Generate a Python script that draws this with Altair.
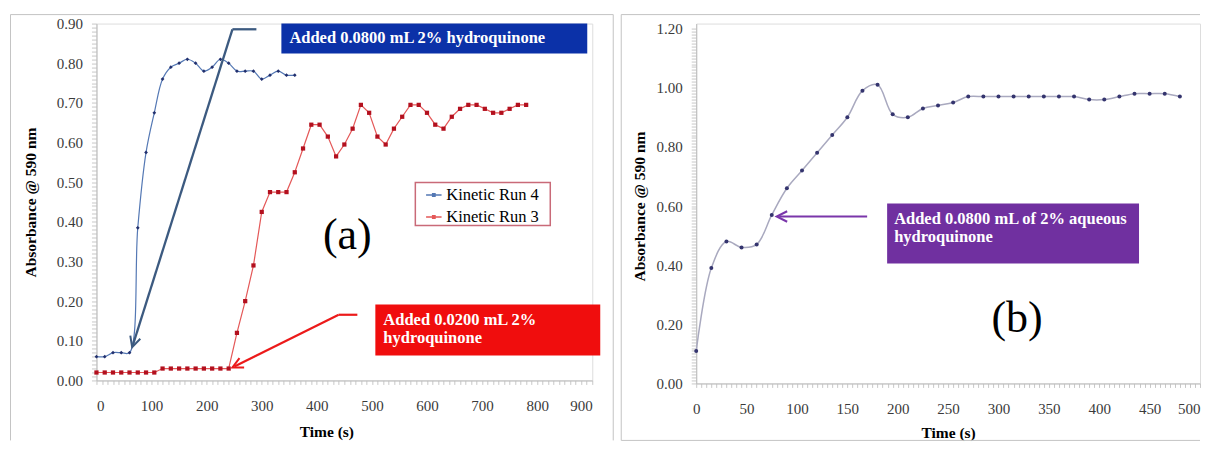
import math
import altair as alt
import pandas as pd

# ---------------- data ----------------
series_names = ["Kinetic Run 4", "Kinetic Run 3"]

run4_time = [0, 15, 30, 45, 60, 75, 90, 105, 120, 135, 150, 165, 180, 195, 210,
             225, 240, 255, 270, 285, 300, 315, 330, 345, 360]
run4_abs = [0.06, 0.06, 0.07, 0.07, 0.07, 0.385, 0.575, 0.675, 0.76, 0.79, 0.80,
            0.81, 0.80, 0.78, 0.79, 0.81, 0.80, 0.78, 0.78, 0.78, 0.76, 0.77,
            0.78, 0.77, 0.77]

run3_time = [0, 15, 30, 45, 60, 75, 90, 105, 120, 135, 150, 165, 180, 195, 210,
             225, 240, 255, 270, 285, 300, 315, 330, 345, 360, 375, 390, 405, 420,
             435, 450, 465, 480, 495, 510, 525, 540, 555, 570, 585, 600, 615, 630,
             645, 660, 675, 690, 705, 720, 735, 750, 765, 780]
run3_abs = [0.02, 0.02, 0.02, 0.02, 0.02, 0.02, 0.02, 0.02,
            0.03, 0.03, 0.03, 0.03, 0.03, 0.03, 0.03, 0.03, 0.03,
            0.12, 0.20, 0.29, 0.425, 0.475, 0.475, 0.475, 0.525, 0.585, 0.645,
            0.645, 0.615, 0.565, 0.595, 0.635, 0.695, 0.675, 0.615, 0.595, 0.635,
            0.665, 0.695, 0.695, 0.675, 0.645, 0.635, 0.665, 0.685, 0.695, 0.695,
            0.685, 0.675, 0.675, 0.685, 0.695, 0.695]

b_time = [0, 15, 30, 45, 60, 75, 90, 105, 120, 135, 150, 165, 180, 195, 210, 225,
          240, 255, 270, 285, 300, 315, 330, 345, 360, 375, 390, 405, 420, 435,
          450, 465, 480]
b_abs = [0.11, 0.39, 0.48, 0.46, 0.47, 0.57, 0.66, 0.72, 0.78, 0.84, 0.90, 0.99,
         1.01, 0.91, 0.90, 0.93, 0.94, 0.95, 0.97, 0.97, 0.97, 0.97, 0.97, 0.97,
         0.97, 0.97, 0.96, 0.96, 0.97, 0.98, 0.98, 0.98, 0.97]

note_a_blue = "Added 0.0800 mL 2% hydroquinone"
note_a_red = ["Added 0.0200 mL 2%", "hydroquinone"]
note_b = ["Added 0.0800 mL of 2% aqueous", "hydroquinone"]

# ---------------- layout ----------------
FONT = "Liberation Serif"
LW, LH = 496, 357          # left plot area
RW, RH = 504, 360          # right plot area (top 5px left empty)
GAP = 104
L0X, L0Y = 96, 23          # page position of left plot origin
R0X, R0Y = L0X + LW + GAP, 23
R_TOP = 1.2 + 5 / 295.8    # extra headroom so 1.20 sits 5px below the top

one = pd.DataFrame({"k": [0]})


def lx(p):
    return p - L0X


def ly(p):
    return p - L0Y


def rx(p):
    return p - R0X


def ry(p):
    return p - R0Y


def rule(x1, y1, x2, y2, color, width=1.0):
    return alt.Chart(one).mark_rule(color=color, strokeWidth=width).encode(
        x=alt.value(x1), y=alt.value(y1), x2=alt.value(x2), y2=alt.value(y2))


def head(tip, tail, color, size=110, width=2.0):
    ux, uy = tip[0] - tail[0], tip[1] - tail[1]
    n = math.hypot(ux, uy)
    ux, uy = ux / n, uy / n
    ang = math.degrees(math.atan2(ux, -uy)) % 360
    r = math.sqrt(size) / 2
    return alt.Chart(one).mark_point(
        shape="M-1,1L0,-1L1,1", filled=False, color=color, strokeWidth=width,
        size=size, angle=ang, opacity=1).encode(
        x=alt.value(tip[0] - r * ux), y=alt.value(tip[1] - r * uy))


def box(x1, y1, x2, y2, color, stroke=None):
    kw = {"stroke": stroke, "strokeWidth": 1.5} if stroke else {}
    return alt.Chart(one).mark_rect(color=color, opacity=1, **kw).encode(
        x=alt.value(x1), y=alt.value(y1), x2=alt.value(x2), y2=alt.value(y2))


def txt(x, y, s, size=16.5, color="white", weight="bold", align="left"):
    return alt.Chart(one).mark_text(
        text=s, font=FONT, fontSize=size, fontWeight=weight, color=color,
        align=align, baseline="middle").encode(x=alt.value(x), y=alt.value(y))


def y_axis(values, label_expr, title, tx, ty):
    return alt.Axis(values=values, labelExpr=label_expr, labelOverlap=False,
                    labelFont=FONT, labelFontSize=15, labelColor="#3a3a3a",
                    labelPadding=9, tickSize=5, tickColor="#c8c8c8",
                    domainColor="#bcbcbc", grid=False, title=title,
                    titleFont=FONT, titleFontSize=15.5, titleFontWeight="bold",
                    titleColor="black", titleX=tx, titleY=ty, titleAngle=270,
                    titleAlign="center", titleBaseline="middle")


def x_axis(values, label_expr, tx, ty, label_align=None):
    kw = {}
    if label_align is not None:
        kw["labelAlign"] = label_align
    return alt.Axis(values=values, labelExpr=label_expr, labelOverlap=False,
                    labelFont=FONT, labelFontSize=15, labelColor="#3a3a3a",
                    labelPadding=21, labelBaseline="middle", tickSize=4,
                    tickColor="#c8c8c8", domainColor="#bcbcbc", grid=False,
                    title="Time (s)", titleFont=FONT, titleFontSize=15.5,
                    titleFontWeight="bold", titleColor="black", titleX=tx,
                    titleY=ty, titleAlign="center", titleBaseline="middle", **kw)


# ---------------- panel (a) ----------------
df_a = pd.DataFrame({
    "t": run4_time + run3_time,
    "a": run4_abs + run3_abs,
    "series": [series_names[0]] * len(run4_time) + [series_names[1]] * len(run3_time),
})

xa = alt.X("t:Q", scale=alt.Scale(domain=[0, 900], nice=False, zero=False),
           axis=x_axis([i * 10 for i in range(91)],
                       "datum.value % 100 == 0 ? format(datum.value, 'd') : ''",
                       230, 51))
ya = alt.Y("a:Q", scale=alt.Scale(domain=[0, 0.9], nice=False),
           axis=y_axis([round(i * 0.01, 2) for i in range(91)],
                       "abs(datum.value*10 - round(datum.value*10)) < 0.001 ? format(datum.value, '.2f') : ''",
                       "Absorbance @ 590 nm", -66, LH / 2))

color_scale = alt.Scale(domain=series_names, range=["#5478b4", "#e45858"])
fill_scale = alt.Scale(domain=series_names, range=["#22306e", "#b3101e"])

legend = alt.Legend(orient="none", legendX=lx(415), legendY=ly(182), title=None,
                    padding=4,
                    labelFont=FONT, labelFontSize=16.5, labelColor="black",
                    symbolType="M-1,0L1,0M-0.15,-0.15L0.15,-0.15L0.15,0.15L-0.15,0.15Z",
                    symbolSize=240, symbolStrokeWidth=1.5, symbolOffset=6,
                    labelOffset=4, rowPadding=5)

base_a = alt.Chart(df_a)
line4 = base_a.transform_filter(alt.datum.series == series_names[0]).mark_line(
    interpolate="catmull-rom", strokeWidth=1.2).encode(
    x=xa, y=ya, color=alt.Color("series:N", scale=color_scale, legend=legend))
line3 = base_a.transform_filter(alt.datum.series == series_names[1]).mark_line(
    strokeWidth=1.2).encode(
    x=xa, y=ya, color=alt.Color("series:N", scale=color_scale, legend=legend))
pts4 = base_a.transform_filter(alt.datum.series == series_names[0]).mark_point(
    filled=True, shape="diamond", size=14, opacity=1).encode(
    x=xa, y=ya, fill=alt.Fill("series:N", scale=fill_scale, legend=None))
pts3 = base_a.transform_filter(alt.datum.series == series_names[1]).mark_point(
    filled=True, shape="square", size=18, opacity=1).encode(
    x=xa, y=ya, fill=alt.Fill("series:N", scale=fill_scale, legend=None))

BORDER = "#c4c4c4"
left_layers = [
    # panel frame
    rule(lx(10), ly(14), lx(613), ly(14), BORDER),
    rule(lx(10), ly(14), lx(10), ly(440), BORDER),
    rule(lx(613), ly(14), lx(613), ly(440), BORDER),
    # legend frame
    box(lx(415), ly(182), lx(550), ly(225), "white", stroke="#c96a78"),
    line4, line3, pts4, pts3,
    # blue note
    rule(lx(256), ly(28.7), lx(232), ly(28.7), "#3c5a80", 2.3),
    rule(lx(232), ly(28.7), lx(132.5), ly(344.5), "#3c5a80", 2.3),
    head((lx(131.7), ly(346.7)), (lx(232), ly(28.7)), "#3c5a80"),
    box(lx(281), ly(23), lx(587), ly(53), "#0b31a8"),
    txt(lx(289), ly(37.5), note_a_blue),
    # red note
    rule(lx(357), ly(314.3), lx(338.3), ly(314.3), "#ec1a1a", 2.2),
    rule(lx(338.3), ly(314.3), lx(234), ly(366), "#ec1a1a", 2.2),
    head((lx(232), ly(367)), (lx(338.3), ly(314.3)), "#ec1a1a"),
    box(lx(375), ly(304), lx(600), ly(355), "#f00d0d"),
    txt(lx(383), ly(319.5), note_a_red[0]),
    txt(lx(383), ly(338), note_a_red[1]),
    # panel label
    txt(lx(347), ly(236), "(a)", size=44, color="black", weight="normal", align="center"),
]
left = alt.layer(*left_layers).properties(width=LW, height=LH)

# ---------------- panel (b) ----------------
df_b = pd.DataFrame({"t": b_time, "a": b_abs})
xb = alt.X("t:Q", scale=alt.Scale(domain=[0, 500], nice=False, zero=False),
           axis=x_axis([i * 5 for i in range(101)],
                       "datum.value % 50 == 0 ? format(datum.value, 'd') : ''",
                       RW / 2, 49.5,
                       label_align={"condition": {"test": "datum.value >= 500", "value": "right"},
                                    "value": "center"}))
yb = alt.Y("a:Q", scale=alt.Scale(domain=[0, R_TOP], nice=False),
           axis=y_axis([round(i * 0.01, 2) for i in range(121)],
                       "abs(datum.value*5 - round(datum.value*5)) < 0.001 ? format(datum.value, '.2f') : ''",
                       "Absorbance @ 590 nm", -57, 5 + 355 / 2))

base_b = alt.Chart(df_b)
line_b = base_b.mark_line(interpolate="catmull-rom", color="#a9a9bf",
                          strokeWidth=1.5).encode(x=xb, y=yb)
pts_b = base_b.mark_point(filled=True, shape="circle", size=16, color="#34346e",
                          opacity=1).encode(x=xb, y=yb)

right_layers = [
    rule(rx(621), ry(14), rx(1200), ry(14), BORDER),
    rule(rx(621), ry(14), rx(621), ry(440), BORDER),
    rule(rx(621), ry(440), rx(1200), ry(440), BORDER),
    line_b, pts_b,
    rule(rx(867), ry(216), rx(779), ry(216), "#7a36aa", 2.2),
    head((rx(776.5), ry(216)), (rx(867), ry(216)), "#7a36aa"),
    box(rx(887), ry(203), rx(1139), ry(263), "#7030a0"),
    txt(rx(894), ry(218), note_b[0]),
    txt(rx(894), ry(237), note_b[1]),
    txt(rx(1017), ry(319), "(b)", size=44, color="black", weight="normal", align="center"),
]
right = alt.layer(*right_layers).properties(width=RW, height=RH)

chart = alt.hconcat(left, right, spacing=GAP, bounds="flush").properties(
    padding={"left": 1.5, "top": 5.5, "right": 0, "bottom": 0},
    background="white",
).configure_view(stroke=None).configure(font=FONT)

chart.save("out.html", embed_options={"renderer": "svg", "actions": False})
